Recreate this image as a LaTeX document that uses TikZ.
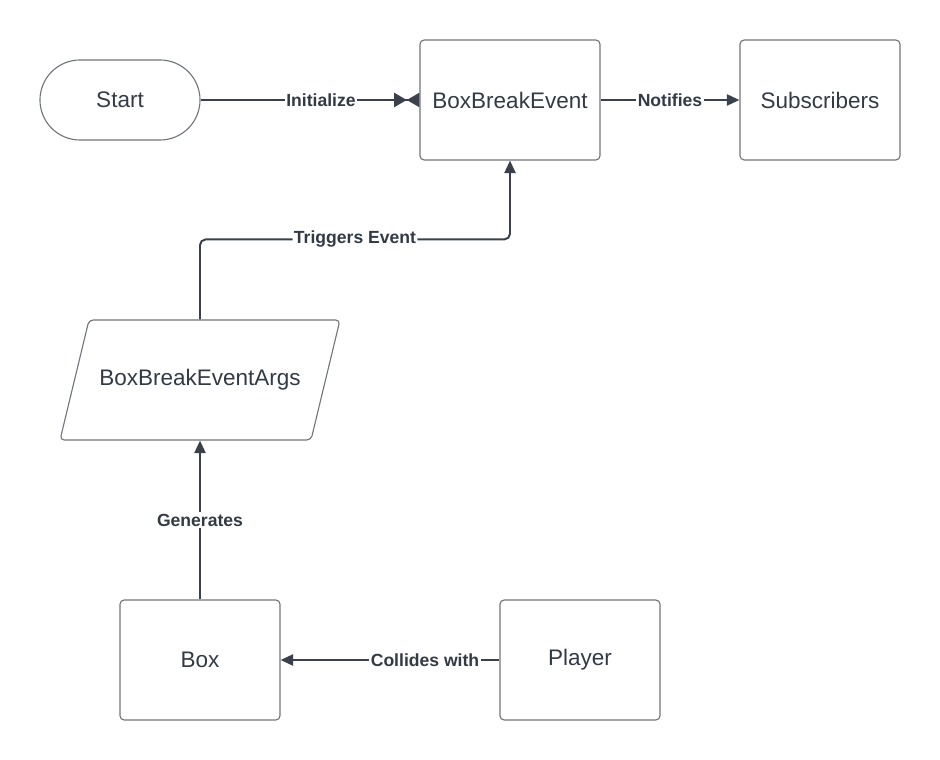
\documentclass[tikz,border=0pt]{standalone}
\usepackage{fontspec}
\setmainfont{Liberation Sans}
\usetikzlibrary{arrows.meta}

\definecolor{edge}{HTML}{3A414A}
\definecolor{frame}{HTML}{71757C}
\definecolor{ink}{HTML}{333A45}

\tikzset{
	block/.style={draw=frame, line width=0.8pt, rounded corners=3pt, minimum width=4cm, minimum height=3cm, text=ink, font=\fontsize{16}{19}\selectfont},
	link/.style={draw=edge, line width=1.4pt, -{Triangle[length=9pt,width=8pt]}},
	tag/.style={fill=white, inner sep=1pt, text=ink, font=\bfseries\fontsize{12.5}{15}\selectfont}
}

\begin{document}
\begin{tikzpicture}[x=0.025cm, y=-0.025cm]
	
	% frame
	\useasboundingbox (0,0) rectangle (940,760);

	% nodes
	\node[block, rounded corners=1cm, minimum height=2cm] (start) at (120,100) {Start};
	\node[block, minimum width=4.5cm] (event) at (510,100) {BoxBreakEvent};
	\node[block] (subs) at (820,100) {Subscribers};
	\node[block, draw=none, minimum width=6.5cm] (args) at (200,380) {BoxBreakEventArgs};
	\node[block] (box) at (200,660) {Box};
	\node[block] (player) at (580,660) {Player};

	% parallelogram round args
	\draw[frame, line width=0.8pt, rounded corners=3pt] (60,440) -- (311,440) -- (340,320) -- (89,320) -- cycle;

	% connectors
	\draw[link, -{Triangle[length=9pt,width=10pt] Triangle[length=9pt,width=10pt,reversed]}] (start) -- node[tag, pos=0.55] {Initialize} (event);
	\draw[link] (event) -- node[tag] {Notifies} (subs);
	\draw[link, rounded corners=4pt] (args.north) -- ++(0,-80) -| node[tag, pos=0.25] {Triggers Event} (event.south);
	\draw[link] (box.north) -- node[tag] {Generates} (args.south);
	\draw[link] (player) -- node[tag, pos=0.34] {Collides with} (box);
	
\end{tikzpicture}
\end{document}
